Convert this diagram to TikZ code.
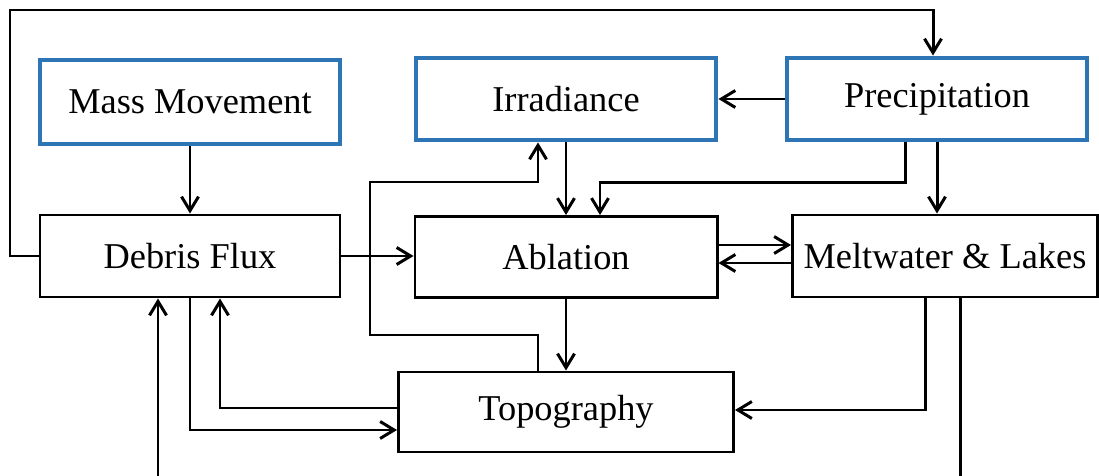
\documentclass[tikz,border=0pt]{standalone}
\usepackage{fontspec}
\setmainfont{Liberation Serif}
\usetikzlibrary{arrows.meta,calc}
\definecolor{boxblue}{RGB}{46,117,182}
\tikzset{
  base/.style={rectangle, draw=black, line width=1.7pt, fill=white, inner sep=0pt,
    font=\fontsize{20.7}{24}\selectfont},
  bluebox/.style={base, draw=boxblue, line width=2.8pt},
  arr/.style={line width=1.7pt, -{Straight Barb[length=0.28cm,width=0.34cm,line width=1.7pt]}},
  ln/.style={line width=1.7pt}
}
\begin{document}
\begin{tikzpicture}[x=0.02cm,y=-0.02cm]
\useasboundingbox (0,0) rectangle (1099,476);
\fill[white] (0,0) rectangle (1099,476);
\clip (0,0) rectangle (1099,476);
% nodes
\node[bluebox, minimum width=300*0.02cm, minimum height=84*0.02cm] (mm) at (190,102) {Mass Movement};
\node[bluebox, minimum width=300*0.02cm, minimum height=82*0.02cm] (irr) at (566,99) {Irradiance};
\node[bluebox, minimum width=300*0.02cm, minimum height=82*0.02cm] (prec) at (937,99) {Precipitation};
\node[base, minimum width=300*0.02cm, minimum height=82*0.02cm] (df) at (190,256) {Debris Flux};
\node[base, minimum width=302*0.02cm, minimum height=81*0.02cm] (abl) at (566,257) {Ablation};
\node[base, minimum width=305*0.02cm, minimum height=82*0.02cm] (mw) at (945,256) {Meltwater \& Lakes};
\node[base, minimum width=335*0.02cm, minimum height=80*0.02cm] (topo) at (566,412) {Topography};
% bend coordinates
\coordinate (tl) at (10,10);
\coordinate (lp1) at (370,335);
\coordinate (lp2) at (370,182);
% connectors
\draw[arr] (df.west) -| (tl) -| ($(prec.north)+(-4,0)$);
\draw[arr] (mm.south) -- (df.north);
\draw[arr] (prec.west) -- (irr.east);
\draw[arr] (irr.south) -- (abl.north);
\draw[arr] ($(prec.south)+(-32,0)$) -- ++(0,40) -| ($(abl.north)+(34,0)$);
\draw[arr] (prec.south) -- (prec.south |- mw.north);
\draw[arr] (df.east) -- (df.east -| abl.west);
\draw[arr] ($(abl.east)+(0,-12)$) -- ($(mw.west)+(0,-11)$);
\draw[arr] ($(mw.west)+(0,7)$) -- ($(abl.east)+(0,6)$);
\draw[arr] (abl.south) -- (abl.south |- topo.north);
\draw[arr] ($(topo.north)+(-28,0)$) |- (lp1) -- (lp2) -| ($(irr.south)+(-28,0)$);
\draw[arr] ($(topo.west)+(0,-4)$) -| ($(df.south)+(30,0)$);
\draw[arr] (df.south) |- ($(topo.west)+(0,18)$);
\draw[arr] ($(mw.south)+(-20,0)$) |- ($(topo.east)+(0,-2)$);
\draw[arr] ($(mw.south)+(15,0)$) -- ++(0,230) -| ($(df.south)+(-32,0)$);
\end{tikzpicture}
\end{document}
